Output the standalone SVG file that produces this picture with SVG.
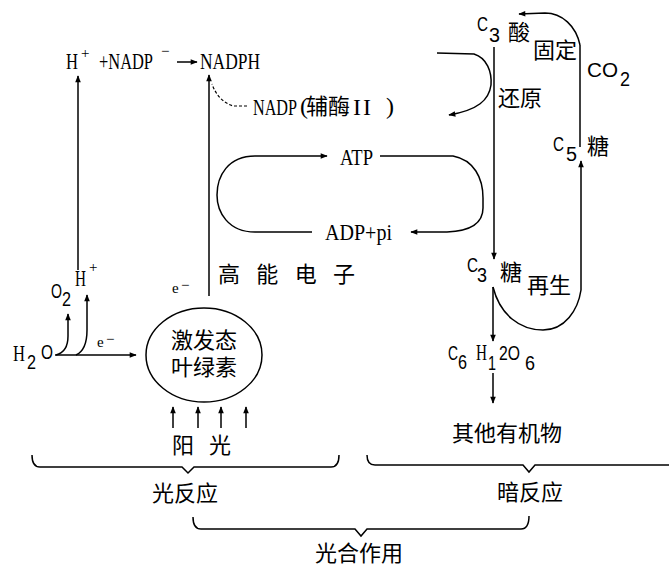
<svg xmlns="http://www.w3.org/2000/svg" width="669" height="568" viewBox="0 0 669 568">
<style>
.lat{font-family:"Liberation Serif",serif;font-size:24px;fill:#000}
.san{font-family:"Liberation Sans",sans-serif;font-size:20px;fill:#000}
.cjk{font-family:"Noto Sans CJK SC",sans-serif;font-size:22px;fill:#000}
.sm{font-family:"Liberation Serif",serif;font-size:15px;fill:#000}
.ln{fill:none;stroke:#000;stroke-width:1.5}
.arr{fill:none;stroke:#000;stroke-width:1.5;marker-end:url(#ah)}
.dash{fill:none;stroke:#000;stroke-width:1.2;stroke-dasharray:3 2}
</style>
<defs>
<marker id="ah" viewBox="0 0 10 10" refX="9" refY="5" markerWidth="8" markerHeight="7" orient="auto" markerUnits="userSpaceOnUse"><path d="M0,1 L10,5 L0,9 z" fill="#000"/></marker>
</defs>
<rect width="669" height="568" fill="#fff"/>

<g id="connectors">
<line class="arr" x1="177" y1="62" x2="197" y2="62"/>
<line class="arr" x1="78" y1="270" x2="78" y2="76"/>
<line class="arr" x1="209" y1="296" x2="209" y2="75"/>
<path class="dash" d="M247 106 L233 106 Q218 101 212 84"/>
<path class="arr" d="M312 232 L255 232 C228 232 217 212 217 195 C217 176 228 156 255 156 L327 156"/>
<path class="arr" d="M380 156 L453 156 C474 160 483 178 483 198 L483 208 C483 222 472 231 447 232 L411 232"/>
<path class="arr" d="M437 53 L474 54 C487 58 492 72 491 85 C489 100 478 110 449 115"/>
<line class="arr" x1="494" y1="47" x2="494" y2="259"/>
<path class="ln" d="M580 147 L580 45"/>
<path class="arr" d="M580 45 C576 26 562 13 545 13 L519 14"/>
<path class="arr" d="M493 287 C500 315 520 330 543 330 C565 330 578 310 581 290 L581 161"/>
<line class="arr" x1="493" y1="287" x2="493" y2="341"/>
<line class="arr" x1="493" y1="373" x2="493" y2="403"/>
<line class="arr" x1="55" y1="355" x2="136" y2="355"/>
<path class="arr" d="M56 355 Q68 352 68 336 L68 314"/>
<path class="arr" d="M76 355 Q87 350 87 330 L87 295"/>
<line class="arr" x1="173" y1="428" x2="173" y2="407"/>
<line class="arr" x1="198" y1="428" x2="198" y2="407"/>
<line class="arr" x1="221" y1="428" x2="221" y2="407"/>
<line class="arr" x1="246" y1="428" x2="246" y2="407"/>
<path class="ln" d="M32 455 Q32 467 40 467 L182 467 L188 473 L194 467 L331 467 Q339 467 339 455"/>
<path class="ln" d="M367 455 Q367 465 375 465 L523 465 L529 472 L535 465 L669 465"/>
<path class="ln" d="M193 517 Q193 529 201 529 L355 529 L361 536 L367 529 L521 529 Q529 529 529 516"/>
</g>

<g id="n-formula">
<text class="lat" x="66" y="69" textLength="12" lengthAdjust="spacingAndGlyphs">H</text>
<text class="sm" x="81" y="58">+</text>
<text class="lat" x="99" y="69" textLength="54" lengthAdjust="spacingAndGlyphs">+NADP</text>
<text class="sm" x="161" y="56">−</text>
<text class="lat" x="200" y="69" textLength="60" lengthAdjust="spacingAndGlyphs">NADPH</text>
</g>

<g id="n-nadp">
<text class="lat" x="253" y="115" textLength="44" lengthAdjust="spacingAndGlyphs">NADP</text>
<text class="lat" x="300" y="114" font-size="17">(</text>
<text class="cjk" x="306" y="114" font-size="20">辅酶</text>
<text class="lat" x="353" y="115" font-size="20" letter-spacing="2">II</text>
<text class="lat" x="386" y="114" font-size="17">)</text>
</g>

<g id="n-atp"><text class="lat" x="340" y="165" textLength="33" lengthAdjust="spacingAndGlyphs">ATP</text></g>
<g id="n-adp"><text class="lat" x="325" y="240" textLength="67" lengthAdjust="spacingAndGlyphs">ADP+pi</text></g>

<g id="n-c3acid">
<text class="san" x="477" y="31" textLength="11" lengthAdjust="spacingAndGlyphs">C</text>
<text class="san" x="489" y="42" textLength="11" lengthAdjust="spacingAndGlyphs">3</text>
<text class="cjk" x="508" y="40">酸</text>
</g>
<g id="n-fix"><text class="cjk" x="533" y="58">固定</text></g>
<g id="n-co2">
<text class="san" x="587" y="77" textLength="31" lengthAdjust="spacingAndGlyphs">CO</text>
<text class="san" x="620" y="86" textLength="10" lengthAdjust="spacingAndGlyphs">2</text>
</g>
<g id="n-reduce"><text class="cjk" x="498" y="106">还原</text></g>
<g id="n-c5">
<text class="san" x="553" y="151" textLength="11" lengthAdjust="spacingAndGlyphs">C</text>
<text class="san" x="566" y="161" textLength="11" lengthAdjust="spacingAndGlyphs">5</text>
<text class="cjk" x="587" y="154">糖</text>
</g>
<g id="n-c3sugar">
<text class="san" x="467" y="272" textLength="11" lengthAdjust="spacingAndGlyphs">C</text>
<text class="san" x="477" y="282" textLength="10" lengthAdjust="spacingAndGlyphs">3</text>
<text class="cjk" x="500" y="280" font-size="21">糖</text>
</g>
<g id="n-regen"><text class="cjk" x="527" y="293">再生</text></g>
<g id="n-glucose">
<text class="san" x="448" y="360" textLength="10" lengthAdjust="spacingAndGlyphs">C</text>
<text class="san" x="458" y="369" textLength="9" lengthAdjust="spacingAndGlyphs">6</text>
<text class="lat" x="476" y="360" textLength="11" lengthAdjust="spacingAndGlyphs">H</text>
<text class="san" x="488" y="370" textLength="8" lengthAdjust="spacingAndGlyphs">1</text>
<text class="san" x="499" y="360" textLength="21" lengthAdjust="spacingAndGlyphs">2O</text>
<text class="san" x="525" y="370" textLength="10" lengthAdjust="spacingAndGlyphs">6</text>
</g>
<g id="n-organic"><text class="cjk" x="452" y="441" font-size="23">其他有机物</text></g>

<g id="n-electron"><text class="cjk" x="218" y="282" font-size="21" textLength="137" lengthAdjust="spacing">高 能 电 子</text></g>
<g id="n-e1"><text class="sm" x="172" y="293">e</text><text class="sm" x="181" y="290">−</text></g>
<g id="n-e2"><text class="sm" x="97" y="347">e</text><text class="sm" x="106" y="344">−</text></g>

<g id="n-h2o">
<text class="lat" x="13" y="361" textLength="12" lengthAdjust="spacingAndGlyphs">H</text>
<text class="san" x="27" y="369" textLength="9" lengthAdjust="spacingAndGlyphs">2</text>
<text class="san" x="41" y="359" textLength="12" lengthAdjust="spacingAndGlyphs">O</text>
</g>
<g id="n-o2">
<text class="san" x="51" y="298" textLength="11" lengthAdjust="spacingAndGlyphs">O</text>
<text class="san" x="62" y="306" textLength="9" lengthAdjust="spacingAndGlyphs">2</text>
</g>
<g id="n-hplus">
<text class="lat" x="75" y="286" textLength="11" lengthAdjust="spacingAndGlyphs">H</text>
<text class="sm" x="89" y="272">+</text>
</g>

<g id="n-chloro">
<ellipse class="ln" cx="204" cy="355" rx="58" ry="47"/>
<text class="cjk" x="204" y="348" font-size="23" text-anchor="middle">激发态</text>
<text class="cjk" x="204" y="375" font-size="23" text-anchor="middle">叶绿素</text>
</g>
<g id="n-sun">
<text class="cjk" x="172" y="453">阳</text>
<text class="cjk" x="209" y="453">光</text>
</g>

<g id="n-light"><text class="cjk" x="152" y="501" font-size="23">光反应</text></g>
<g id="n-dark"><text class="cjk" x="497" y="500" font-size="23">暗反应</text></g>
<g id="n-photo"><text class="cjk" x="315" y="561" font-size="23">光合作用</text></g>
</svg>
